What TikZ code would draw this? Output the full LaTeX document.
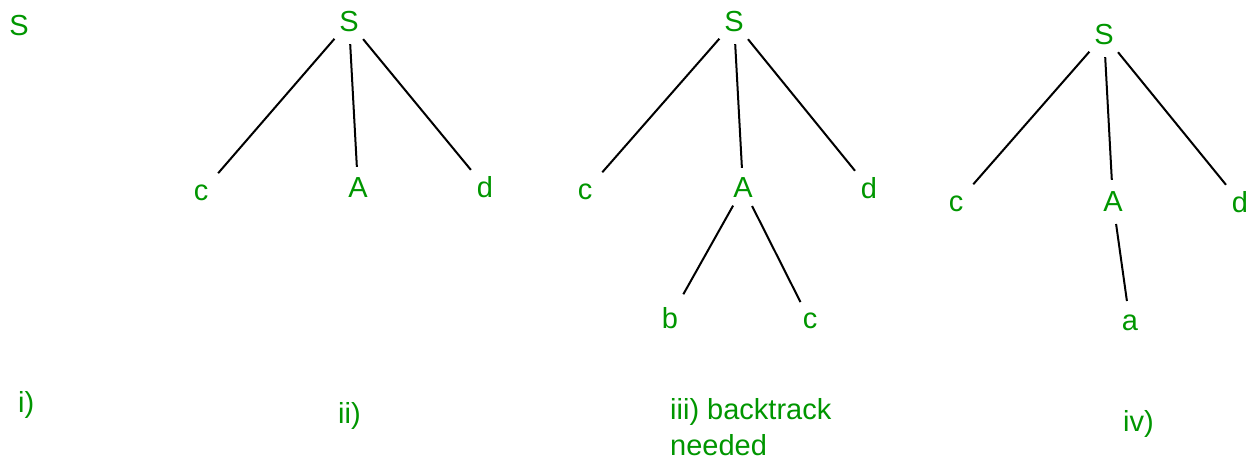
\documentclass[tikz,border=0pt]{standalone}
\usepackage{fontspec}
\setmainfont{Liberation Sans}
\definecolor{sym}{RGB}{0,150,0}
\begin{document}
\begin{tikzpicture}[x=1pt,y=-1pt,
  sym/.style={shape=circle,inner sep=0pt,minimum size=44pt,text=sym,font=\fontsize{29}{34}\selectfont},
  lowc/.style={sym,minimum size=52pt},
  lbl/.style={anchor=base west,inner sep=0pt,text=sym,font=\fontsize{29}{36}\selectfont},
  edge/.style={draw=black,line width=2pt}]
\useasboundingbox (0,0) rectangle (1247,460);
% i)
\node[sym] (S1) at (19,26) {S};
\node[lbl] (L1) at (18,412) {i)};
% ii)
\node[sym] (S2) at (349,22) {S};
\node[lowc] (c2) at (201,193) {c};
\node[sym,minimum size=42pt] (A2) at (358,188) {A};
\node[sym] (d2) at (485,187) {d};
\draw[edge] (S2) -- (c2);
\draw[edge] (S2) -- (A2);
\draw[edge] (S2) -- (d2);
\node[lbl] (L2) at (338,423) {ii)};
% iii)
\node[sym] (S3) at (734,22) {S};
\node[lowc] (c3) at (585,192) {c};
\node[sym,minimum size=40pt] (A3) at (743,188) {A};
\node[sym] (d3) at (869,188) {d};
\node[sym,minimum size=54pt] (b3) at (670,318) {b};
\node[sym,minimum size=42pt] (c3b) at (810,321) {c};
\draw[edge] (S3) -- (c3);
\draw[edge] (S3) -- (A3);
\draw[edge] (S3) -- (d3);
\draw[edge] (A3) -- (b3);
\draw[edge] (A3) -- (c3b);
\node[lbl] (L3) at (670,419) {iii) backtrack};
\node[lbl] (L3b) at (670,455) {needed};
% iv)
\node[sym] (S4) at (1104,35) {S};
\node[lowc] (c4) at (956,204) {c};
\node[sym] (A4) at (1113,202) {A};
\node[sym] (d4) at (1240,202) {d};
\node[sym] (a4) at (1130,323) {a};
\draw[edge] (S4) -- (c4);
\draw[edge] (S4) -- (A4);
\draw[edge] (S4) -- (d4);
\draw[edge] (A4) -- (a4);
\node[lbl] (L4) at (1123,431) {iv)};
\end{tikzpicture}
\end{document}
